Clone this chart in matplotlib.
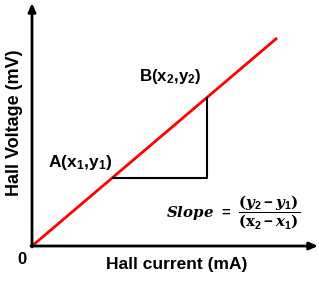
import matplotlib
matplotlib.use("Agg")
import matplotlib.pyplot as plt

plt.rcParams['font.family'] = ['Liberation Sans', 'DejaVu Sans']
plt.rcParams['font.weight'] = 'bold'
plt.rcParams['mathtext.fontset'] = 'custom'
plt.rcParams['mathtext.rm'] = 'Liberation Sans:bold'
plt.rcParams['mathtext.it'] = 'DejaVu Serif:bold:italic'
plt.rcParams['mathtext.bf'] = 'DejaVu Serif:bold'

# chart values (arbitrary units, origin at 0)
line_x = [0, 245]
line_y = [0, 208]
point_a = (81, 68)
point_b = (175, 148)
x_max, y_max = 286, 243

fig = plt.figure(figsize=(3.19, 2.81), dpi=100)
ax = fig.add_axes([32 / 319, 35 / 281, 286 / 319, 243 / 281])
ax.set_xlim(0, x_max)
ax.set_ylim(0, y_max)
ax.axis('off')

# axes with arrow heads
arrow = dict(arrowstyle='-|>,head_length=0.5,head_width=0.22', color='black', lw=2,
             shrinkA=0, shrinkB=0)
ax.annotate('', xy=(x_max, 0), xytext=(-1, 0), arrowprops=arrow, annotation_clip=False)
ax.annotate('', xy=(0, y_max), xytext=(0, -1), arrowprops=arrow, annotation_clip=False)

# red line
ax.plot(line_x, line_y, color='#ff0000', lw=2, solid_capstyle='butt', clip_on=False)

# slope triangle
ax.plot([point_a[0], point_b[0], point_b[0]], [point_a[1], point_a[1], point_b[1]],
        color='black', lw=1.5)

ax.text(point_b[0] - 37, point_b[1] + 21, r'B$(\mathrm{x}_2{,}\mathrm{y}_2)$',
        ha='center', va='center', fontsize=12.2)
ax.text(point_a[0] - 33, point_a[1] + 15, r'A$(\mathrm{x}_1{,}\mathrm{y}_1)$',
        ha='center', va='center', fontsize=12.5)

ax.text(-10, -14, '0', ha='center', va='center', fontsize=12)
ax.text(145, -19, 'Hall current (mA)', ha='center', va='center', fontsize=12.5)
ax.text(-17, 123, 'Hall Voltage (mV)', ha='center', va='center', fontsize=13,
        rotation=90)

ax.text(201, 34, r'$\mathit{Slope}\ =\ \dfrac{\mathbf{(}\mathit{y}_2 - \mathit{y}_1\mathbf{)}}'
        r'{\mathbf{(x}_2 - \mathit{x}_1\mathbf{)}}$',
        ha='center', va='center', fontsize=10.8)

fig.savefig('out.png', dpi=100)
